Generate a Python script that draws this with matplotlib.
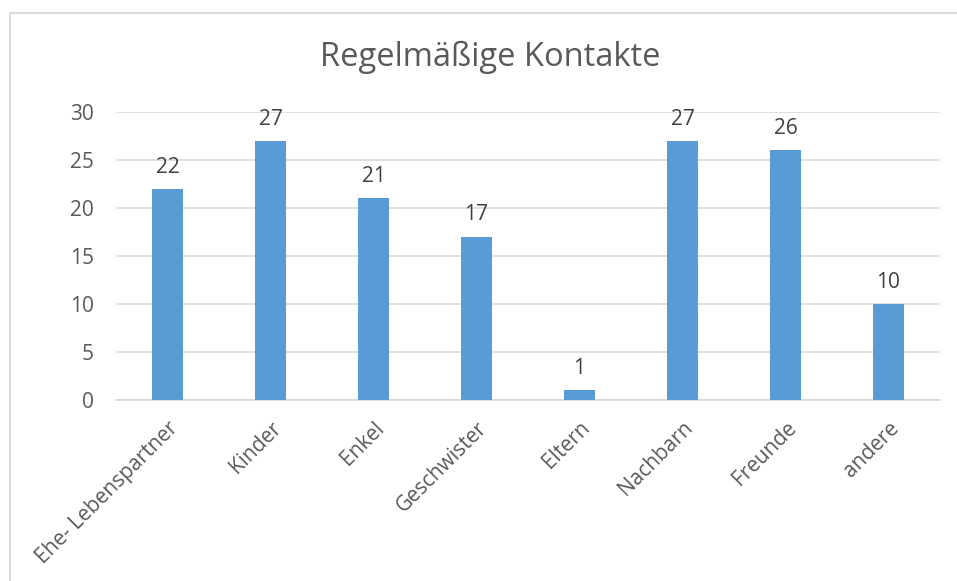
import matplotlib
matplotlib.use("Agg")
import matplotlib.pyplot as plt
from matplotlib.lines import Line2D

plt.rcParams['font.family'] = ['Open Sans', 'DejaVu Sans']

# Data
categories = ["Ehe- Lebenspartner", "Kinder", "Enkel", "Geschwister",
              "Eltern", "Nachbarn", "Freunde", "andere"]
values = [22, 27, 21, 17, 1, 27, 26, 10]
y_ticks = [0, 5, 10, 15, 20, 25, 30]

bar_color = '#5B9BD5'
grid_color = '#D9D9D9'
text_color = '#595959'

fig = plt.figure(figsize=(9.57, 5.81), dpi=100)
ax = fig.add_axes([116 / 957, 1 - 399.5 / 581, (940 - 116) / 957, (399.5 - 112) / 581])

x = range(len(categories))
bars = ax.bar(x, values, width=0.31, color=bar_color, zorder=3)

for xi, v in zip(x, values):
    ax.annotate(str(v), (xi, v), xytext=(0, 8), textcoords='offset points',
                ha='center', va='bottom', fontsize=15, color='#404040')

ax.set_xlim(-0.5, len(categories) - 0.5)
ax.set_ylim(0, 30)
ax.set_yticks(y_ticks)
ax.set_xticks(list(x))
ax.set_xticklabels(categories, rotation=45, ha='right', rotation_mode='anchor',
                   fontsize=15, color=text_color)
ax.tick_params(axis='y', length=0, pad=16, labelsize=15, labelcolor=text_color)
ax.tick_params(axis='x', length=0, pad=13)
ax.grid(axis='y', color=grid_color, linewidth=1.2, zorder=0)
for s in ['top', 'right', 'left']:
    ax.spines[s].set_visible(False)
ax.spines['bottom'].set_color(grid_color)
ax.spines['bottom'].set_linewidth(1.2)

fig.text(490 / 957, 1 - 57 / 581, "Regelmäßige Kontakte", ha='center', va='center',
         fontsize=23.5, color=text_color)

# chart frame (top and left edge visible)
fig.add_artist(Line2D([10 / 957, 10 / 957, 1], [0, 1 - 13 / 581, 1 - 13 / 581],
                      transform=fig.transFigure, color=grid_color, linewidth=1.5))

fig.savefig('out.png', dpi=100)
